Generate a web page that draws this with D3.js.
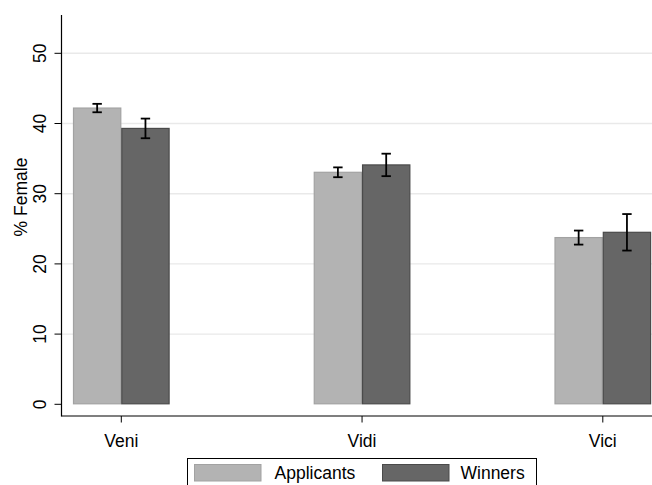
<!DOCTYPE html>
<html><head><meta charset="utf-8">
<script src="https://cdn.jsdelivr.net/npm/d3@7"></script>
<style>body{margin:0;background:#fff}svg{display:block}text{font-family:"Liberation Sans",Arial,Helvetica,sans-serif}</style>
</head><body>
<script>
const categories = ["Veni", "Vidi", "Vici"];
const seriesNames = ["Applicants", "Winners"];
const applicants = [42.2, 33.05, 23.75];
const applicantsErr = [0.6, 0.7, 1.0];
const winners = [39.3, 34.1, 24.5];
const winnersErr = [1.4, 1.6, 2.6];
const yTicks = [0, 10, 20, 30, 40, 50];

const W = 652, H = 485;
const svg = d3.select("body").append("svg").attr("width", W).attr("height", H);

const y = d3.scaleLinear().domain([0, 50]).range([404.3, 53.3]);
const x = d3.scalePoint().domain(categories).range([121.3, 602.8]);
const bw = 48.3;
const axisX = 61.5, axisY = 416;

// gridlines
svg.append("g").selectAll("line").data(yTicks.filter(d => d > 0)).join("line")
  .attr("x1", axisX).attr("x2", W).attr("y1", d => y(d)).attr("y2", d => y(d))
  .attr("stroke", "#e9e9e9").attr("stroke-width", 1.4);

const series = [
  {name: seriesNames[0], vals: applicants, err: applicantsErr, fill: "#b3b3b3", stroke: "#a2a2a2", off: -bw},
  {name: seriesNames[1], vals: winners, err: winnersErr, fill: "#666666", stroke: "#4a4a4a", off: 0}
];

series.forEach(s => {
  const g = svg.append("g");
  g.selectAll("rect").data(categories).join("rect")
    .attr("x", (c) => x(c) + s.off + 0.5)
    .attr("width", bw - 1)
    .attr("y", (c, i) => y(s.vals[i]))
    .attr("height", (c, i) => y(0) - y(s.vals[i]) - 0.5)
    .attr("fill", s.fill).attr("stroke", s.stroke).attr("stroke-width", 1.2);
});

series.forEach(s => {
  const g = svg.append("g").attr("stroke", "#000").attr("stroke-width", 1.8);
  categories.forEach((c, i) => {
    const cx = x(c) + s.off + bw / 2;
    const hi = y(s.vals[i] + s.err[i]), lo = y(s.vals[i] - s.err[i]);
    g.append("line").attr("x1", cx).attr("x2", cx).attr("y1", hi).attr("y2", lo);
    g.append("line").attr("x1", cx - 4.7).attr("x2", cx + 4.7).attr("y1", hi).attr("y2", hi);
    g.append("line").attr("x1", cx - 4.7).attr("x2", cx + 4.7).attr("y1", lo).attr("y2", lo);
  });
});

// axes lines
svg.append("line").attr("x1", axisX).attr("x2", axisX).attr("y1", 15).attr("y2", axisY + 0.5)
  .attr("stroke", "#000").attr("stroke-width", 1.2);
svg.append("line").attr("x1", axisX).attr("x2", W).attr("y1", axisY).attr("y2", axisY)
  .attr("stroke", "#000").attr("stroke-width", 1.2);

// y ticks
const yt = svg.append("g");
yt.selectAll("line").data(yTicks).join("line")
  .attr("x1", axisX - 7).attr("x2", axisX).attr("y1", d => y(d)).attr("y2", d => y(d))
  .attr("stroke", "#000").attr("stroke-width", 1);
yt.selectAll("text").data(yTicks).join("text")
  .attr("transform", d => `translate(45.5,${y(d)}) rotate(-90)`)
  .attr("text-anchor", "middle").attr("font-size", 17.5).attr("fill", "#000")
  .text(d => d);

// x ticks
const xt = svg.append("g");
xt.selectAll("line").data(categories).join("line")
  .attr("x1", d => x(d)).attr("x2", d => x(d)).attr("y1", axisY).attr("y2", axisY + 6.5)
  .attr("stroke", "#000").attr("stroke-width", 1);
xt.selectAll("text").data(categories).join("text")
  .attr("x", d => x(d)).attr("y", 446.5).attr("text-anchor", "middle")
  .attr("font-size", 17.5).attr("fill", "#000").text(d => d);

// y title
svg.append("text").attr("transform", "translate(26.5,197) rotate(-90)")
  .attr("text-anchor", "middle").attr("font-size", 17.5).text("% Female");

// legend
const lg = svg.append("g");
lg.append("rect").attr("x", 187.5).attr("y", 458.5).attr("width", 349).attr("height", 40)
  .attr("fill", "#fff").attr("stroke", "#000").attr("stroke-width", 1);
const legX = [{sx: 194.5, tx: 274.5}, {sx: 382.5, tx: 460.5}];
series.forEach((s, i) => {
  lg.append("rect").attr("x", legX[i].sx).attr("y", 464.5).attr("width", 66.5).attr("height", 16.5)
    .attr("fill", s.fill).attr("stroke", s.stroke).attr("stroke-width", 1);
  lg.append("text").attr("x", legX[i].tx).attr("y", 479).attr("font-size", 17.5).text(s.name);
});
</script>
</body></html>
